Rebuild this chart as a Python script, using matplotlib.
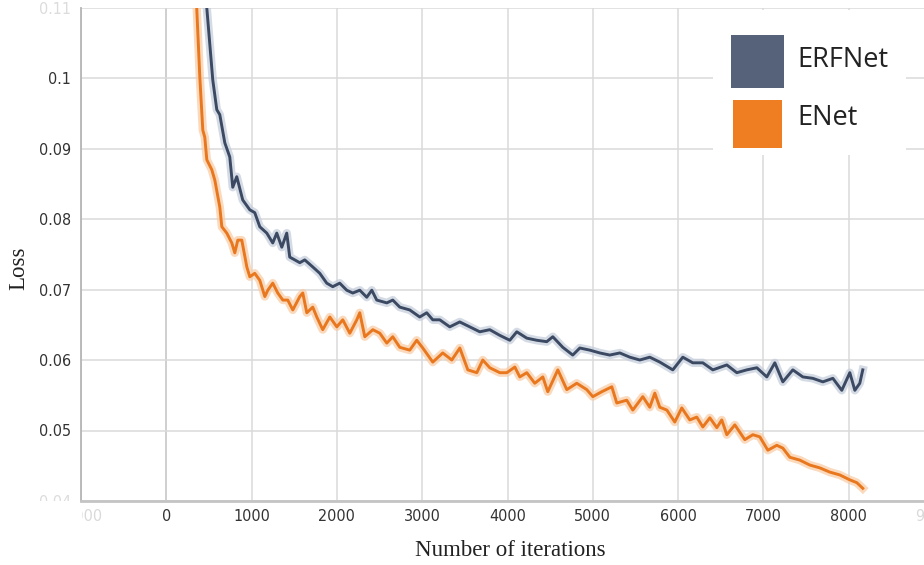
import matplotlib
matplotlib.use("Agg")
import matplotlib.pyplot as plt
from matplotlib.patches import Rectangle
from matplotlib.transforms import Bbox

# ---------------- data ----------------
erf_iter = [430, 475, 545, 592, 627, 686, 744, 779, 826, 896,
            979, 1037, 1096, 1178, 1248, 1295, 1354, 1412, 1447, 1565,
            1623, 1717, 1799, 1881, 1951, 2033, 2115, 2186, 2268, 2350,
            2409, 2467, 2585, 2655, 2737, 2854, 2971, 3053, 3124, 3206,
            3323, 3440, 3558, 3675, 3792, 3909, 4027, 4109, 4226, 4343,
            4460, 4531, 4648, 4765, 4848, 4965, 5082, 5199, 5317, 5434,
            5551, 5668, 5786, 5938, 6055, 6172, 6290, 6407, 6571, 6688,
            6805, 6923, 7040, 7134, 7228, 7345, 7462, 7579, 7697, 7814,
            7919, 8013, 8072, 8130, 8165]
erf_loss = [0.122, 0.1099, 0.0997, 0.0955, 0.0948, 0.0908, 0.0888, 0.0845, 0.0860, 0.0827,
            0.0813, 0.0809, 0.0789, 0.0780, 0.0766, 0.0780, 0.0760, 0.0780, 0.0746, 0.0738,
            0.0742, 0.0732, 0.0723, 0.0709, 0.0704, 0.0709, 0.0699, 0.0695, 0.0699, 0.0689,
            0.0699, 0.0685, 0.0681, 0.0685, 0.0675, 0.0671, 0.0661, 0.0667, 0.0657, 0.0657,
            0.0647, 0.0654, 0.0647, 0.0640, 0.0643, 0.0635, 0.0628, 0.0640, 0.0631, 0.0628,
            0.0626, 0.0633, 0.0618, 0.0607, 0.0617, 0.0614, 0.0610, 0.0607, 0.0610, 0.0604,
            0.0600, 0.0604, 0.0597, 0.0586, 0.0604, 0.0596, 0.0596, 0.0586, 0.0593, 0.0582,
            0.0586, 0.0589, 0.0576, 0.0596, 0.0569, 0.0586, 0.0576, 0.0574, 0.0569, 0.0574,
            0.0557, 0.0582, 0.0557, 0.0567, 0.0586]

enet_iter = [300, 358, 393, 428, 451, 475, 533, 569, 627, 651,
             709, 768, 803, 838, 885, 944, 979, 1037, 1096, 1155,
             1190, 1248, 1307, 1366, 1424, 1483, 1565, 1600, 1647, 1717,
             1764, 1834, 1917, 1999, 2069, 2151, 2233, 2268, 2327, 2421,
             2503, 2585, 2655, 2737, 2854, 2936, 3007, 3124, 3241, 3347,
             3441, 3535, 3640, 3710, 3792, 3910, 3992, 4086, 4144, 4226,
             4320, 4414, 4472, 4590, 4695, 4812, 4929, 5000, 5105, 5223,
             5281, 5398, 5469, 5586, 5668, 5727, 5785, 5868, 5961, 6043,
             6137, 6219, 6290, 6372, 6454, 6512, 6571, 6665, 6782, 6876,
             6958, 7052, 7157, 7228, 7310, 7427, 7544, 7661, 7778, 7895,
             8013, 8095, 8165]
enet_loss = [0.125, 0.1096, 0.1001, 0.0926, 0.0916, 0.0884, 0.0870, 0.0855, 0.0817, 0.0789,
             0.0780, 0.0766, 0.0752, 0.0770, 0.0770, 0.0732, 0.0718, 0.0723, 0.0713, 0.0690,
             0.0699, 0.0709, 0.0695, 0.0685, 0.0685, 0.0671, 0.0690, 0.0695, 0.0667, 0.0675,
             0.0661, 0.0643, 0.0661, 0.0647, 0.0657, 0.0638, 0.0657, 0.0667, 0.0633, 0.0643,
             0.0638, 0.0624, 0.0633, 0.0618, 0.0614, 0.0628, 0.0617, 0.0597, 0.0610, 0.0600,
             0.0617, 0.0586, 0.0582, 0.0600, 0.0589, 0.0582, 0.0582, 0.0590, 0.0576, 0.0582,
             0.0567, 0.0576, 0.0555, 0.0586, 0.0558, 0.0567, 0.0558, 0.0548, 0.0555, 0.0562,
             0.0539, 0.0543, 0.0529, 0.0548, 0.0533, 0.0553, 0.0533, 0.0529, 0.0512, 0.0532,
             0.0515, 0.0519, 0.0505, 0.0518, 0.0504, 0.0515, 0.0494, 0.0508, 0.0487, 0.0494,
             0.0491, 0.0472, 0.0479, 0.0475, 0.0462, 0.0458, 0.0451, 0.0447, 0.0441, 0.0437,
             0.0430, 0.0426, 0.0418]

x_ticks = [-1000, 0, 1000, 2000, 3000, 4000, 5000, 6000, 7000, 8000, 9000]
x_tick_labels = ["-1000", "0", "1000", "2000", "3000", "4000", "5000", "6000", "7000", "8000", "9000"]
y_ticks = [0.04, 0.05, 0.06, 0.07, 0.08, 0.09, 0.10, 0.11]
y_tick_labels = ["0.04", "0.05", "0.06", "0.07", "0.08", "0.09", "0.1", "0.11"]
series_names = ["ERFNet", "ENet"]

# ---------------- styling ----------------
W, H = 924, 565
DPI = 100
erf_color = "#3c4962"
erf_light = "#c3ccdb"
enet_color = "#e8771e"
enet_light = "#f8caa2"
legend_erf = "#56627a"
legend_enet = "#ef7d22"

fig = plt.figure(figsize=(W / DPI, H / DPI), dpi=DPI)
fig.patch.set_facecolor("white")

def px_box(l, b, r, t):
    return [l / W, 1 - b / H, (r - l) / W, (b - t) / H]

ax = fig.add_axes(px_box(81, 501, 934, 7.5))
ax.set_xlim(-1000, 9000)
ax.set_ylim(0.04, 0.11)

# grid
ax.set_xticks(x_ticks)
ax.set_yticks(y_ticks)
ax.grid(True, color="#dadada", lw=1.1, zorder=0)
ax.axvline(0, color="#a8a8a8", lw=1.3, zorder=1)
for s in ["top", "right"]:
    ax.spines[s].set_visible(False)
ax.spines["left"].set_color("#b5b5b5")
ax.spines["left"].set_linewidth(1.3)
ax.spines["bottom"].set_color("#c4c4c4")
ax.spines["bottom"].set_linewidth(2.0)

tick_font = dict(family=["DejaVu Sans", "Liberation Sans"], stretch="condensed", size=11.5)
ax.tick_params(length=0, colors="#333333")
ax.tick_params(axis="x", pad=6)
ax.tick_params(axis="y", pad=7)
ax.set_xticklabels(x_tick_labels, **tick_font)
ax.set_yticklabels(y_tick_labels, **tick_font)

# faded / clipped edge labels, as in the screenshot
for lab in ax.get_xticklabels():
    if lab.get_text() == "-1000":
        lab.set_color("#d9d9d9")
        lab.set_clip_box(Bbox.from_extents(82, 0, W, H))
        lab.set_clip_on(True)
    if lab.get_text() == "9000":
        lab.set_color("#d9d9d9")
for lab in ax.get_yticklabels():
    if lab.get_text() == "0.04":
        lab.set_color("#dcdcdc")
        lab.set_clip_box(Bbox.from_extents(0, H - 501, W, H))
        lab.set_clip_on(True)
    if lab.get_text() == "0.11":
        lab.set_color("#dcdcdc")

# curves: faint halo + main smoothed line
ax.plot(erf_iter, erf_loss, color=erf_light, lw=6, alpha=0.7, solid_joinstyle="round", zorder=2)
ax.plot(enet_iter, enet_loss, color=enet_light, lw=6, alpha=0.7, solid_joinstyle="round", zorder=2)
ax.plot(erf_iter, erf_loss, color=erf_color, lw=2.1, zorder=3)
ax.plot(enet_iter, enet_loss, color=enet_color, lw=2.1, zorder=3)

# axis labels
fig.text(510 / W, 1 - 550 / H, "Number of iterations", ha="center", va="center",
         fontsize=16.5, family=["Liberation Serif", "DejaVu Serif"], color="#222222")
fig.text(19 / W, 1 - 268 / H, "Loss", ha="center", va="center", rotation=90,
         fontsize=16.5, family=["Liberation Serif", "DejaVu Serif"], color="#222222")

# legend (custom, TensorBoard-like screenshot overlay)
def fig_rect(l, t, r, b, color, z):
    rect = Rectangle((l / W, 1 - b / H), (r - l) / W, (b - t) / H,
                     transform=fig.transFigure, facecolor=color, edgecolor="none", zorder=z)
    fig.add_artist(rect)

fig_rect(713, 10, 906, 155, "white", 10)
fig_rect(731, 35, 784, 88, legend_erf, 11)
fig_rect(733, 100, 782, 148, legend_enet, 11)
fig.text(797 / W, 1 - 60 / H, series_names[0], ha="left", va="center", fontsize=19.5,
         family=["Open Sans", "DejaVu Sans"], color="#222222", zorder=12)
fig.text(797 / W, 1 - 118 / H, series_names[1], ha="left", va="center", fontsize=19.5,
         family=["Open Sans", "DejaVu Sans"], color="#222222", zorder=12)

fig.savefig("out.png", dpi=DPI, facecolor="white")
